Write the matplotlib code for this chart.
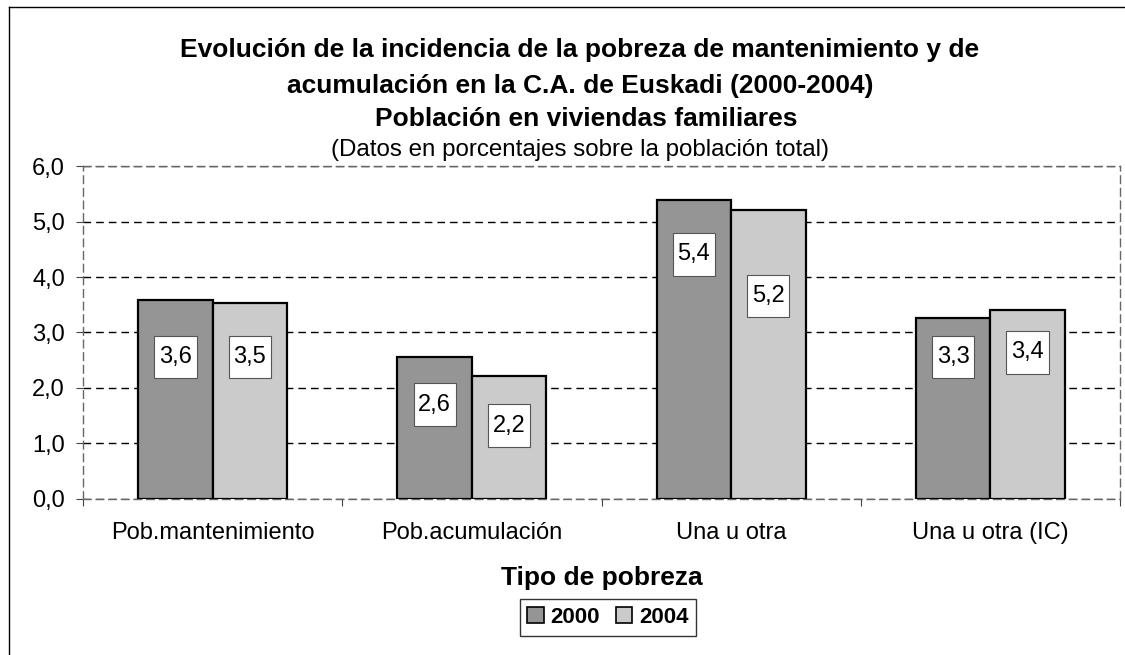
import matplotlib
matplotlib.use("Agg")
import matplotlib.pyplot as plt
from matplotlib.patches import Patch
from matplotlib.lines import Line2D
from matplotlib.path import Path

# --- data ---
categories = ['Pob.mantenimiento', 'Pob.acumulación', 'Una u otra', 'Una u otra (IC)']
years = ['2000', '2004']
values_2000 = [3.59, 2.56, 5.40, 3.26]
values_2004 = [3.54, 2.21, 5.22, 3.41]
# height (in data units) where each value box sits
label_y_2000 = [2.56, 1.70, 4.41, 2.56]
label_y_2004 = [2.56, 1.32, 3.66, 2.64]
yticks = [0, 1, 2, 3, 4, 5, 6]

title_lines = ['Evolución de la incidencia de la pobreza de mantenimiento y de',
               'acumulación en la C.A. de Euskadi (2000-2004)',
               'Población en viviendas familiares']
subtitle = '(Datos en porcentajes sobre la población total)'
xlabel = 'Tipo de pobreza'

dark = '#959595'
light = '#cbcbcb'

plt.rcParams['font.family'] = ['Liberation Sans', 'DejaVu Sans']

W, H = 1125, 655
fig = plt.figure(figsize=(W / 100, H / 100), dpi=100)
ax = fig.add_axes([83 / W, 1 - 498.7 / H, (1120 - 83) / W, (498.7 - 166.3) / H])

bw = 0.287
x = range(len(categories))
x0 = [i - bw / 2 for i in x]
x1 = [i + bw / 2 for i in x]
ax.bar(x0, values_2000, width=bw, color=dark, edgecolor='black', linewidth=1.6, zorder=3)
ax.bar(x1, values_2004, width=bw, color=light, edgecolor='black', linewidth=1.6, zorder=3)

def fmt(v):
    return f'{v:.1f}'.replace('.', ',')

# value boxes are taller than wide-padded, like the excel labels
def label_box(x0, y0, width, height, mutation_size):
    px = 0.2 * mutation_size
    py = 0.43 * mutation_size
    a, b = x0 - px, y0 - py
    c, d = x0 + width + px, y0 + height + py
    return Path([(a, b), (c, b), (c, d), (a, d), (a, b)], closed=True)

for xs, vals, ly in [(x0, values_2000, label_y_2000), (x1, values_2004, label_y_2004)]:
    for xi, v, yi in zip(xs, vals, ly):
        ax.text(xi, yi, fmt(v), ha='center', va='center', fontsize=17, zorder=4,
                bbox=dict(boxstyle=label_box, facecolor='white', edgecolor='#555555', linewidth=0.8))

ax.set_xlim(-0.5, len(categories) - 0.5)
ax.set_ylim(0, 6)
ax.set_yticks(yticks)
ax.set_yticklabels([fmt(t) for t in yticks], fontsize=17)
ax.set_xticks([i - 0.5 for i in range(len(categories) + 1)])
ax.set_xticklabels([])
ax.set_xticks(list(x), minor=True)
ax.set_xticklabels(categories, minor=True, fontsize=17)
ax.tick_params(axis='x', which='minor', length=0, pad=17)
ax.tick_params(axis='x', which='major', length=5, direction='out', color='#444444')
ax.tick_params(axis='y', length=5, direction='out', color='#444444', pad=8)

ax.yaxis.grid(True, color='black', linestyle=(0, (5.5, 3.6)), linewidth=1.0, zorder=0)
ax.set_axisbelow(True)
for s in ax.spines.values():
    s.set_linestyle((0, (5.5, 3.6)))
    s.set_color('#666666')
    s.set_linewidth(1.0)

# titles
fig.text(580 / W, 1 - 57.5 / H, title_lines[0], ha='center', va='baseline', fontsize=19, fontweight='bold')
fig.text(580 / W, 1 - 92.5 / H, title_lines[1], ha='center', va='baseline', fontsize=19, fontweight='bold')
fig.text(586 / W, 1 - 126.5 / H, title_lines[2], ha='center', va='baseline', fontsize=19, fontweight='bold')
fig.text(580 / W, 1 - 156 / H, subtitle, ha='center', va='baseline', fontsize=17.4)
fig.text(602 / W, 1 - 585 / H, xlabel, ha='center', va='baseline', fontsize=19, fontweight='bold')

handles = [Patch(facecolor=dark, edgecolor='black', linewidth=1.2),
           Patch(facecolor=light, edgecolor='black', linewidth=1.2)]
leg = fig.legend(handles, years, loc='center', bbox_to_anchor=(608 / W, 1 - 617.5 / H), ncol=2,
                 prop={'size': 16, 'weight': 'bold'}, frameon=True, fancybox=False,
                 handlelength=0.75, handleheight=0.75, handletextpad=0.3, columnspacing=0.7,
                 borderpad=0.35, borderaxespad=0)
leg.get_frame().set_edgecolor('black')
leg.get_frame().set_linewidth(1.0)

# outer chart frame
fig.add_artist(Line2D([9 / W, 9 / W], [0, 1 - 7 / H], color='black', linewidth=1.0, transform=fig.transFigure))
fig.add_artist(Line2D([9 / W, 1], [1 - 7 / H, 1 - 7 / H], color='black', linewidth=1.0, transform=fig.transFigure))

fig.savefig('out.png', dpi=100)
